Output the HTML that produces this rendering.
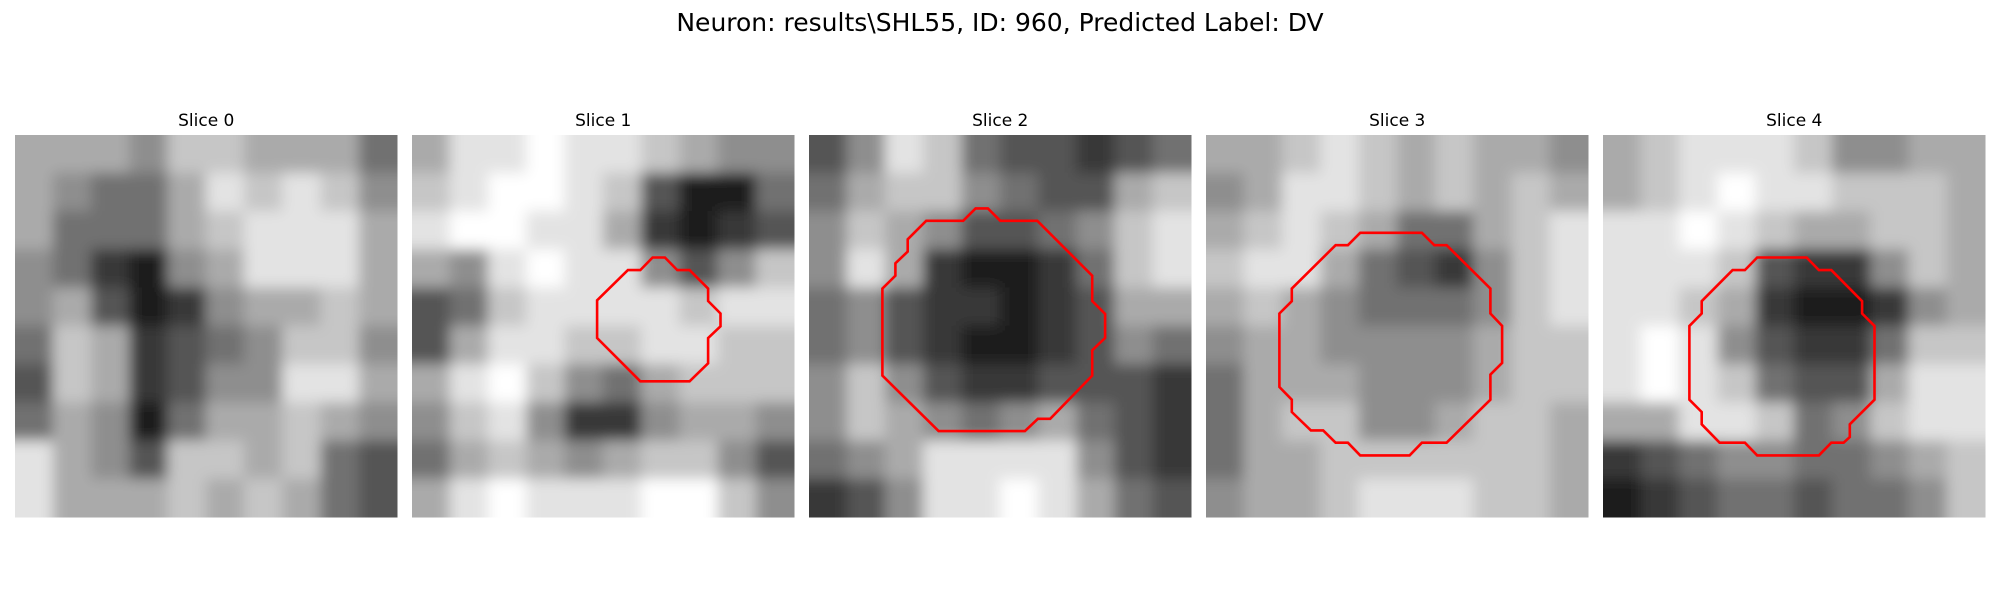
<!DOCTYPE html>
<html><head><meta charset="utf-8"><style>
body{margin:0;background:#fff;width:2000px;height:600px;overflow:hidden}
svg text{font-family:"DejaVu Sans","Liberation Sans",sans-serif;fill:#000}
</style></head><body>
<svg id="fig" width="2000" height="600" viewBox="0 0 2000 600" xmlns="http://www.w3.org/2000/svg">
<defs><filter id="soft" x="-0.2" y="-0.2" width="1.4" height="1.4"><feGaussianBlur stdDeviation="7"/></filter></defs>
<text x="1000" y="31" text-anchor="middle" font-size="25">Neuron: results\SHL55, ID: 960, Predicted Label: DV</text>
</svg>
<script>
// Coarse 10x10 brightness grids (0=black, 9=white) per slice
const slice0 = [
[6,6,6,5,7,7,6,6,6,4],[6,5,4,4,6,8,7,8,7,5],[6,4,4,4,6,7,8,8,8,6],[5,4,2,1,5,6,8,8,8,6],
[5,6,3,1,2,5,6,6,7,6],[4,7,6,2,3,4,5,7,7,5],[3,7,6,2,3,5,5,8,8,6],[4,6,5,1,4,6,6,7,6,5],
[8,6,5,3,7,7,6,7,4,3],[8,6,6,6,7,6,7,6,4,3]];
const slice1 = [
[6,8,8,9,8,8,7,6,5,5],[7,8,9,9,8,7,3,1,1,4],[8,9,9,8,8,6,2,1,2,3],[6,5,8,9,8,8,5,3,5,7],
[3,4,7,8,8,8,8,7,8,8],[3,6,8,8,7,7,8,8,7,7],[6,8,9,7,5,4,6,7,7,7],[5,7,8,5,2,2,5,6,6,5],
[4,6,7,6,5,6,7,7,5,3],[6,8,9,8,8,8,9,9,7,5]];
const slice2 = [
[3,5,8,7,4,3,3,2,3,4],[4,6,7,7,5,4,3,3,6,7],[5,7,6,5,3,3,4,5,7,8],[5,8,6,2,1,1,2,4,7,8],
[4,5,3,2,2,1,2,3,6,6],[4,5,3,2,1,1,2,3,5,4],[5,7,5,3,2,2,3,3,3,2],[5,7,6,5,4,5,6,4,3,2],
[4,5,6,8,8,8,8,5,3,2],[2,3,5,8,8,9,8,6,4,3]];
const slice3 = [
[6,6,7,8,7,6,7,6,6,5],[5,6,8,8,7,6,7,6,7,6],[6,7,8,7,6,4,4,6,7,8],[7,8,8,6,4,3,2,5,7,8],
[6,7,6,5,4,4,4,5,7,8],[5,6,6,5,5,5,5,6,7,7],[4,6,6,6,5,5,5,6,7,7],[4,6,7,7,5,5,6,7,7,6],
[4,6,6,7,7,7,7,7,7,6],[5,6,6,7,8,8,8,7,7,6]];
const slice4 = [
[6,7,8,8,8,7,5,5,6,6],[6,7,8,9,8,8,7,7,7,6],[8,8,9,8,7,6,6,7,7,6],[8,8,8,7,3,2,2,5,7,6],
[8,8,7,6,2,1,1,2,5,6],[8,9,8,5,3,2,2,4,7,7],[8,9,8,7,4,3,3,6,8,8],[6,6,8,8,7,4,5,7,8,8],
[2,3,4,5,5,4,4,5,6,7],[1,2,3,4,4,3,4,4,5,7]];
const grids = [slice0, slice1, slice2, slice3, slice4];
const sliceTitles = ["Slice 0","Slice 1","Slice 2","Slice 3","Slice 4"];
// ROI contours in image pixel units (31x31 image)
const roi1 = [[15,13.4],[17.5,10.95],[18.5,10.95],[19.5,9.93],[20.5,9.93],[21.5,10.95],[22.5,10.95],[24,12.45],[24,13.45],[25,14.47],[25,15.5],[24,16.45],[24,18.5],[22.5,19.96],[18.5,19.96],[15,16.45]];
const roi2 = [[5.95,12.45],[7,11.4],[7,10.4],[8,9.45],[8,8.45],[9.5,6.95],[12.5,6.95],[13.5,5.95],[14.5,5.95],[15.5,6.95],[18.5,6.95],[22.95,11.4],[22.95,13.45],[24,14.5],[24,16.45],[22.95,17.45],[22.95,19.5],[19.55,23],[18.55,23],[17.5,24],[10.5,24],[5.95,19.5]];
const roi3 = [[5.95,14.47],[6.95,13.47],[6.95,12.45],[10.5,8.93],[11.5,8.93],[12.5,7.93],[17.5,7.93],[18.5,8.93],[19.5,8.93],[23.05,12.45],[23.05,14.47],[24,15.47],[24,18.47],[23.05,19.42],[23.05,21.45],[19.5,24.94],[17.5,24.94],[16.5,25.97],[12.5,25.97],[11.5,24.94],[10.5,24.94],[9.5,23.94],[8.5,23.94],[6.95,22.45],[6.95,21.45],[5.95,20.42]];
const roi4 = [[7,15.47],[8,14.47],[8,13.47],[10.5,10.95],[11.5,10.95],[12.5,9.93],[16.5,9.93],[17.5,10.95],[18.5,10.95],[21,13.47],[21,14.47],[22,15.47],[22,21.45],[20,23.45],[20,24.48],[19.5,24.94],[18.5,24.94],[17.5,25.97],[12.5,25.97],[11.5,24.94],[9.45,24.94],[8,23.45],[8,22.45],[7,21.45]];
const rois = [null, roi1, roi2, roi3, roi4];

const NS = "http://www.w3.org/2000/svg";
const svg = document.getElementById('fig');
const panelX = [15, 412, 809, 1206, 1603];
const panelY = 135, panelS = 382.5;
function gray(v){const g=Math.round(Math.max(0,Math.min(9,v))*255/9);return `rgb(${g},${g},${g})`;}
grids.forEach((grid,k)=>{
  const x0 = panelX[k];
  const g = document.createElementNS(NS,'g');
  
  
  const cp = document.createElementNS(NS,'clipPath'); cp.setAttribute('id','cp'+k);
  const cr = document.createElementNS(NS,'rect');
  cr.setAttribute('x',x0);cr.setAttribute('y',panelY);cr.setAttribute('width',panelS);cr.setAttribute('height',panelS);
  cp.appendChild(cr); svg.appendChild(cp);
  const img = document.createElementNS(NS,'g');
  img.setAttribute('clip-path','url(#cp'+k+')');
  const inner = document.createElementNS(NS,'g');
  inner.setAttribute('filter','url(#soft)');
  const n = grid.length, c = panelS/n, pad = 30;
  grid.forEach((row,r)=>row.forEach((v,cIdx)=>{
    let x = x0 + cIdx*c - 0.5, y = panelY + r*c - 0.5, w = c+1, h = c+1;
    if(cIdx===0){x-=pad;w+=pad;}
    if(cIdx===n-1){w+=pad;}
    if(r===0){y-=pad;h+=pad;}
    if(r===n-1){h+=pad;}
    const rc = document.createElementNS(NS,'rect');
    
    
    rc.setAttribute('x', x); rc.setAttribute('y', y);
    rc.setAttribute('width', w); rc.setAttribute('height', h);
    rc.setAttribute('fill', gray(v));
    inner.appendChild(rc);
  }));
  img.appendChild(inner); g.appendChild(img);
  const t = document.createElementNS(NS,'text');
  
  
  t.setAttribute('x', x0 + panelS/2); t.setAttribute('y', 126);
  t.setAttribute('text-anchor','middle'); t.setAttribute('font-size','17');
  t.textContent = sliceTitles[k];
  g.appendChild(t);
  const roi = rois[k];
  if(roi){
    const px = panelS/31;
    const p = document.createElementNS(NS,'polygon');
    
    
    p.setAttribute('points', roi.map(([a,b])=>`${(x0+a*px).toFixed(1)},${(panelY+b*px).toFixed(1)}`).join(' '));
    p.setAttribute('fill','none'); p.setAttribute('stroke','#ff0000'); p.setAttribute('stroke-width','2.6');
    g.appendChild(p);
  }
  svg.appendChild(g);
});
</script>
</body></html>
